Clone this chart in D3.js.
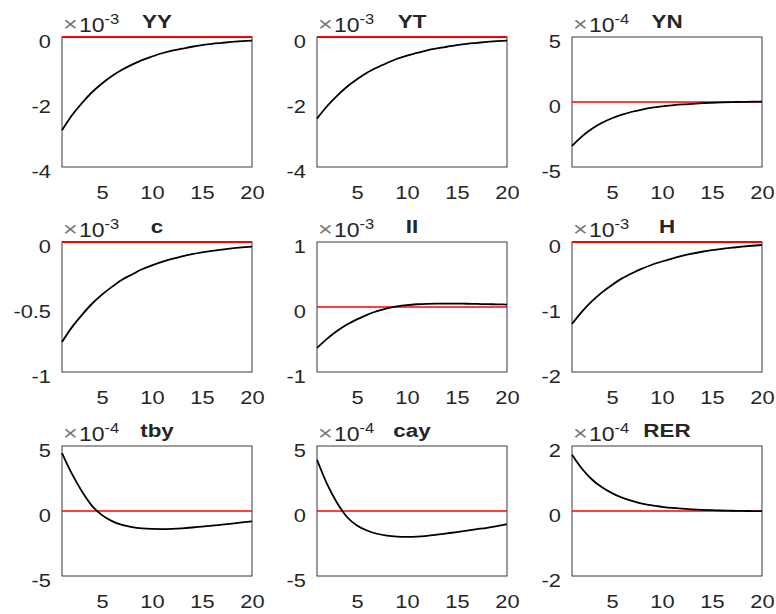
<!DOCTYPE html>
<html>
<head>
<meta charset="utf-8">
<script src="https://cdn.jsdelivr.net/npm/d3@7"></script>
<style>
  html, body { margin: 0; padding: 0; background: #fff; }
  svg text { font-family: "Liberation Sans", Arial, sans-serif; }
</style>
</head>
<body>
<svg id="chart" width="776" height="614"></svg>
<script>
// ---- data (values in units of 10^exponent) ----
const periods = d3.range(1, 21);
const titles = ["YY", "YT", "YN", "c", "II", "H", "tby", "cay", "RER"];
const exponents = [-3, -3, -4, -3, -3, -3, -4, -4, -4];
const yDomains = [[-4, 0], [-4, 0], [-5, 5], [-1, 0], [-1, 1], [-2, 0], [-5, 5], [-5, 5], [-2, 2]];
const yTicks = [[-4, -2, 0], [-4, -2, 0], [-5, 0, 5], [-1, -0.5, 0], [-1, 0, 1], [-2, -1, 0], [-5, 0, 5], [-5, 0, 5], [-2, 0, 2]];
const xTicks = [5, 10, 15, 20];

const YY  = [-2.87, -2.41, -2.03, -1.70, -1.43, -1.20, -1.01, -0.85, -0.71, -0.60, -0.50, -0.42, -0.36, -0.30, -0.25, -0.21, -0.18, -0.15, -0.13, -0.11];
const YT  = [-2.51, -2.13, -1.81, -1.53, -1.30, -1.10, -0.94, -0.80, -0.67, -0.57, -0.49, -0.41, -0.35, -0.30, -0.25, -0.21, -0.18, -0.15, -0.13, -0.11];
const YN  = [-3.38, -2.64, -2.06, -1.60, -1.25, -0.97, -0.75, -0.58, -0.44, -0.34, -0.26, -0.19, -0.14, -0.09, -0.06, -0.03, -0.01, 0.01, 0.02, 0.03];
const c   = [-0.77, -0.655, -0.56, -0.475, -0.405, -0.345, -0.29, -0.25, -0.21, -0.18, -0.153, -0.13, -0.11, -0.094, -0.08, -0.068, -0.058, -0.049, -0.042, -0.036];
const II  = [-0.63, -0.49, -0.37, -0.27, -0.19, -0.12, -0.065, -0.02, 0.01, 0.03, 0.042, 0.049, 0.052, 0.053, 0.052, 0.05, 0.047, 0.044, 0.041, 0.038];
const H   = [-1.26, -1.07, -0.91, -0.775, -0.66, -0.56, -0.48, -0.41, -0.35, -0.30, -0.255, -0.215, -0.18, -0.15, -0.125, -0.105, -0.088, -0.072, -0.058, -0.046];
const tby = [4.46, 2.85, 1.5, 0.4, -0.32, -0.78, -1.07, -1.24, -1.34, -1.38, -1.39, -1.37, -1.33, -1.27, -1.20, -1.13, -1.05, -0.97, -0.88, -0.79];
const cay = [3.94, 2.09, 0.64, -0.46, -1.11, -1.5, -1.75, -1.9, -1.97, -1.99, -1.97, -1.91, -1.82, -1.72, -1.62, -1.51, -1.40, -1.29, -1.16, -1.02];
const RER = [1.73, 1.30, 0.97, 0.73, 0.55, 0.41, 0.31, 0.23, 0.17, 0.13, 0.095, 0.07, 0.05, 0.035, 0.025, 0.015, 0.008, 0.003, -0.002, -0.006];
const series = [YY, YT, YN, c, II, H, tby, cay, RER];

// ---- layout ----
const colLeft = [62, 317, 572];
const rowTop = [37, 242, 446];
const W = 190, Hh = 130;
const SX = 1.18;        // horizontal text stretch of the original
const textColor = "#262626";

const svg = d3.select("#chart");

function stretchedText(g, x, y, str, anchor, size, weight) {
  return g.append("text")
    .attr("transform", `translate(${x},${y}) scale(${SX},1)`)
    .attr("text-anchor", anchor)
    .attr("font-size", size)
    .attr("font-weight", weight || "normal")
    .attr("fill", textColor)
    .text(str);
}

titles.forEach((t, i) => {
  const col = i % 3, row = Math.floor(i / 3);
  const g = svg.append("g").attr("transform", `translate(${colLeft[col]},${rowTop[row]})`);
  const x = d3.scaleLinear().domain([1, 20]).range([0, W]);
  const y = d3.scaleLinear().domain(yDomains[i]).range([Hh, 0]);

  // y axis labels
  const yAxis = d3.axisLeft(y).tickValues(yTicks[i]).tickSize(0).tickPadding(0);
  const ya = g.append("g").call(yAxis);
  ya.select(".domain").remove();
  ya.selectAll("text").remove();
  ya.selectAll(".tick").each(function(d) {
    stretchedText(d3.select(this), -11, 10, String(d), "end", 18.5);
  });

  // x axis labels
  const xAxis = d3.axisBottom(x).tickValues(xTicks).tickSize(0).tickPadding(0);
  const xa = g.append("g").attr("transform", `translate(0,${Hh})`).call(xAxis);
  xa.select(".domain").remove();
  xa.selectAll("text").remove();
  xa.selectAll(".tick").each(function(d) {
    stretchedText(d3.select(this), 0, 32, String(d), "middle", 18.5);
  });

  // box
  g.append("rect").attr("x", 0).attr("y", 0).attr("width", W).attr("height", Hh)
    .attr("fill", "none").attr("stroke", "#3a3a3a").attr("stroke-width", 1);

  // zero line
  g.append("line").attr("x1", 0).attr("x2", W).attr("y1", y(0)).attr("y2", y(0))
    .attr("stroke", "#ff0000").attr("stroke-width", y(0) < 1 ? 2 : 1.3);

  // response line
  const line = d3.line().x((d, k) => x(periods[k])).y(d => y(d)).curve(d3.curveMonotoneX);
  g.append("path").datum(series[i]).attr("d", line)
    .attr("fill", "none").attr("stroke", "#000").attr("stroke-width", 1.8);

  // title
  stretchedText(g, W / 2, -9, t, "middle", 19, "bold");

  // exponent label (×10^n)
  g.append("text")
    .attr("transform", `translate(1,-6) scale(1.2,1)`)
    .attr("font-size", 21).attr("fill", "#777").text("×");
  const ex = g.append("text")
    .attr("transform", `translate(17,-5.5) scale(${SX},1)`)
    .attr("font-size", 19.5).attr("fill", textColor);
  ex.append("tspan").text("10");
  ex.append("tspan").attr("font-size", 14).attr("dy", -8).text(String(exponents[i]));
});
</script>
</body>
</html>
